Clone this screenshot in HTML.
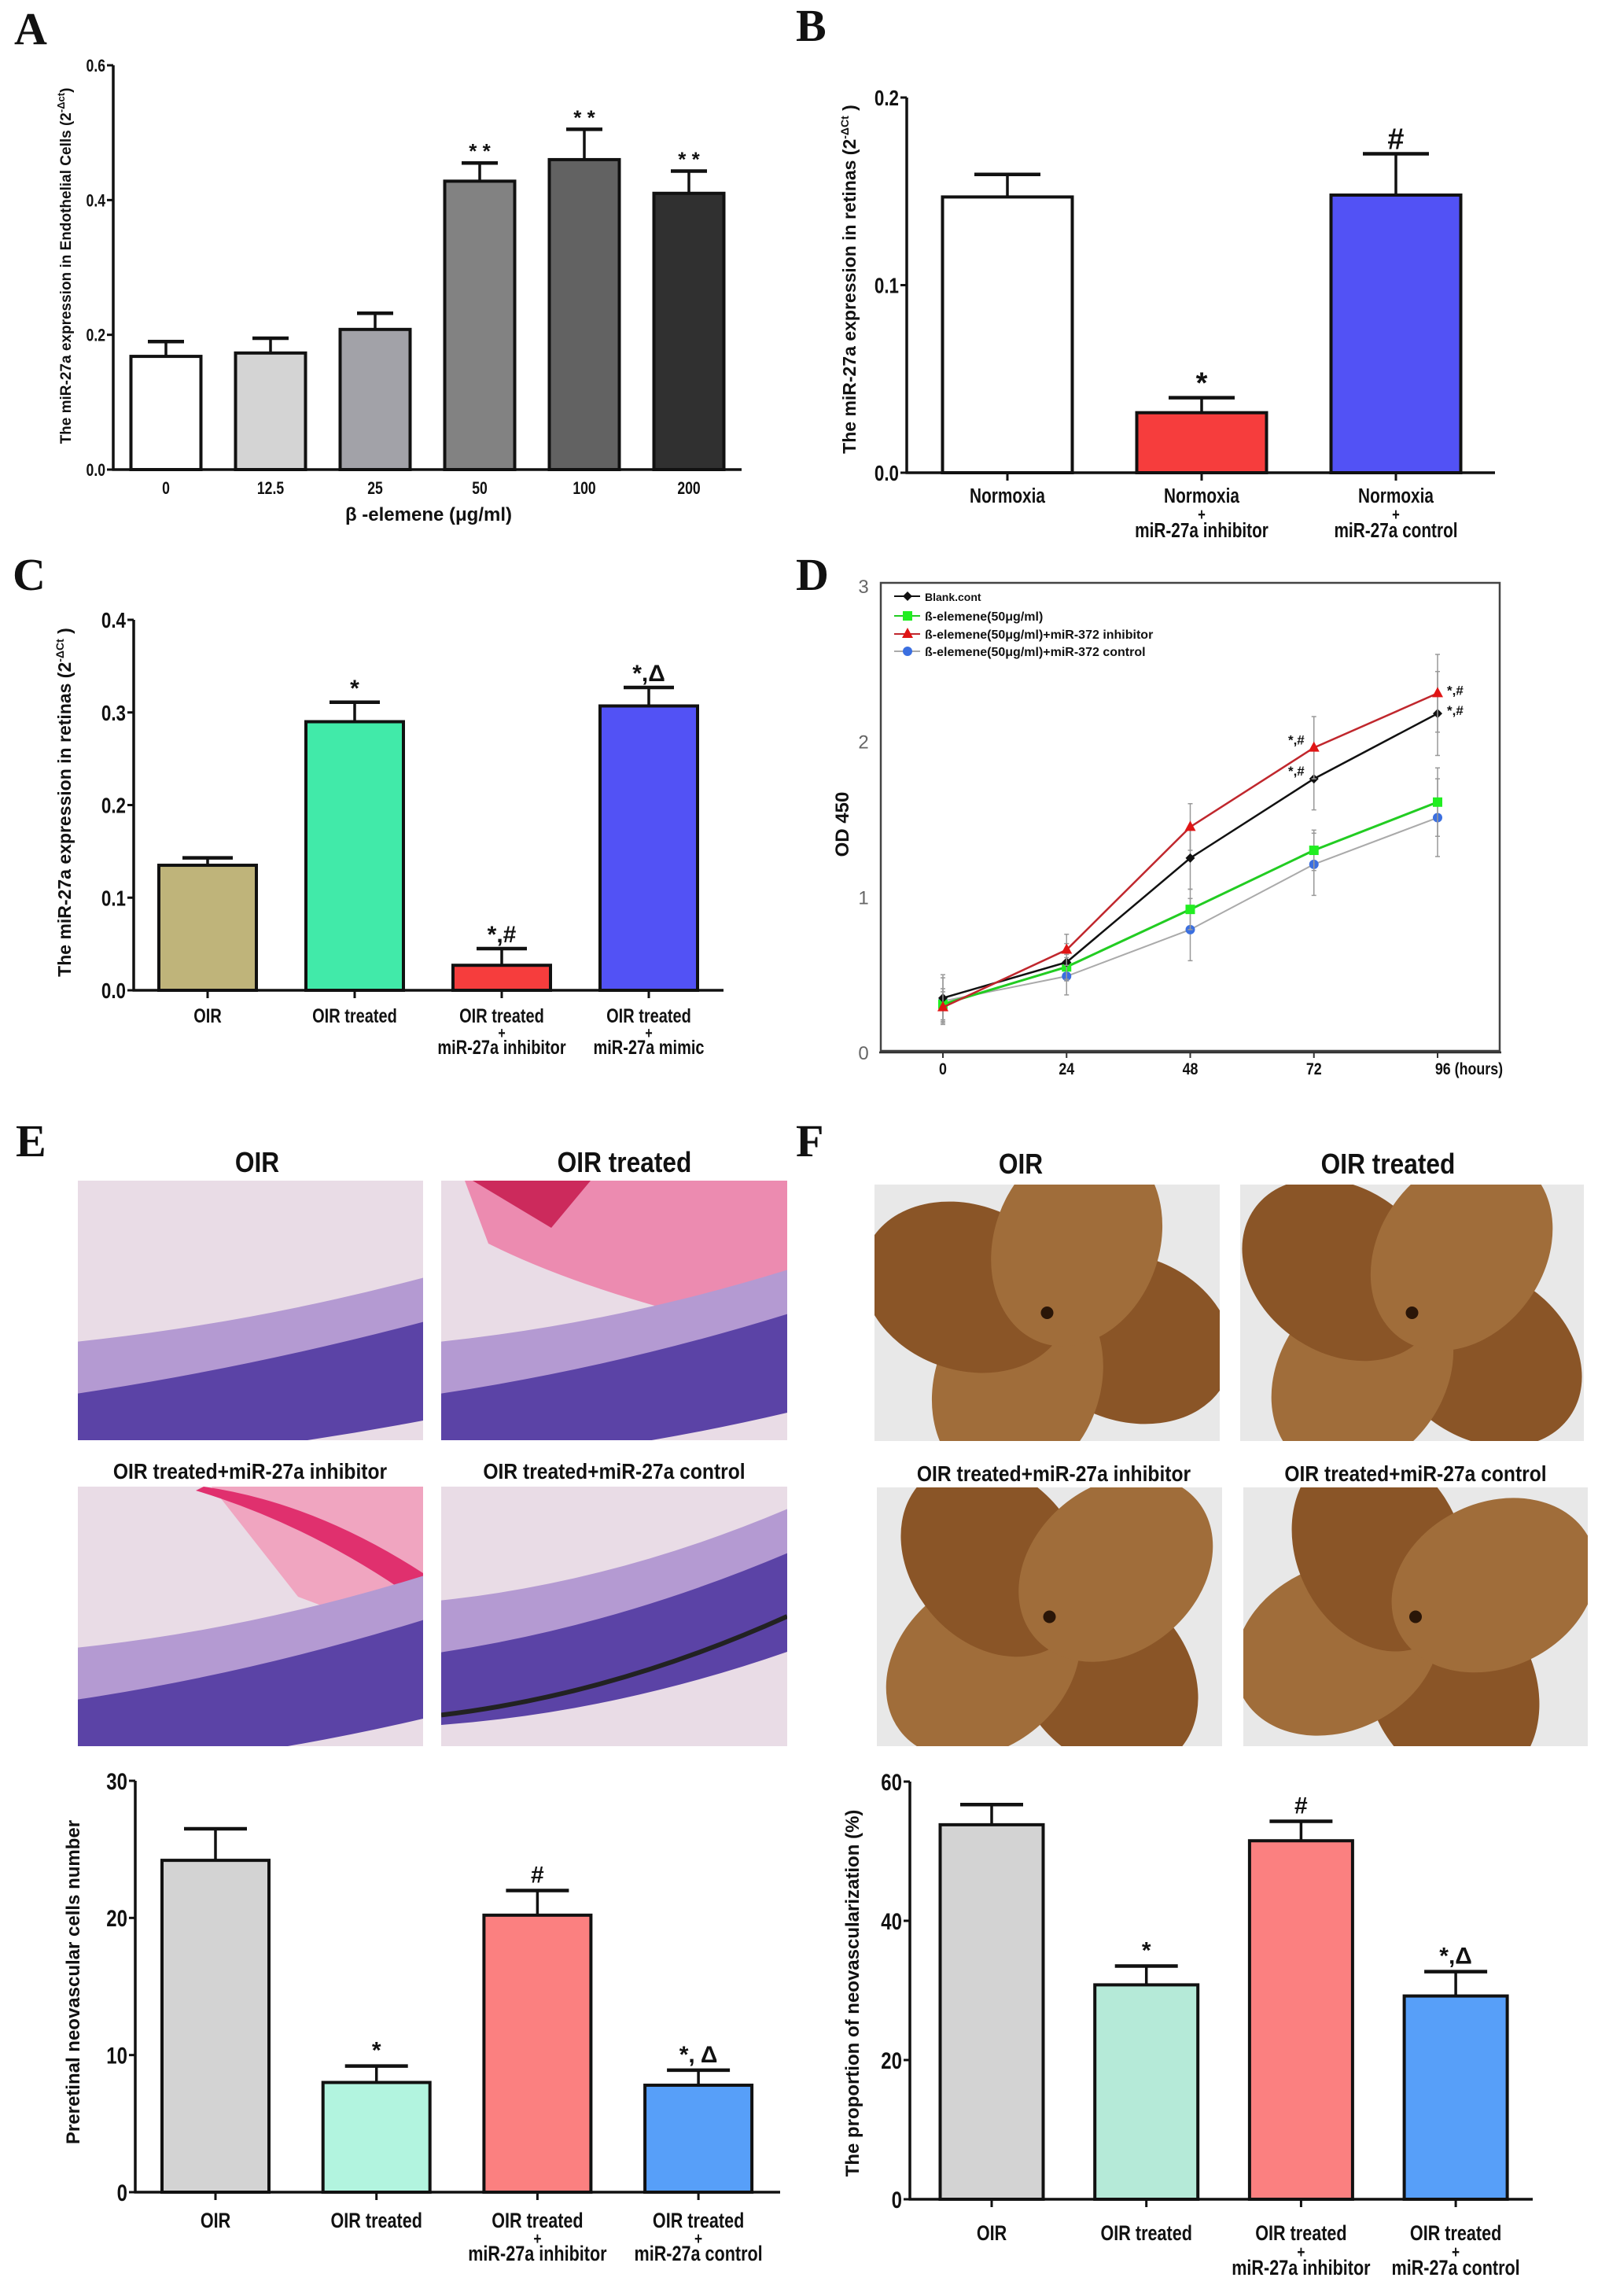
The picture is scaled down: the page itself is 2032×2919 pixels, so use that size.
<!DOCTYPE html>
<html><head><meta charset="utf-8"><style>
html,body{margin:0;padding:0;background:#fff;}
svg{display:block;}
text{font-family:"Liberation Sans",sans-serif;font-weight:bold;fill:#111;}
.serif{font-family:"Liberation Serif",serif;}
.thin{font-weight:normal;fill:#666;font-family:"Liberation Sans",sans-serif;}
</style></head><body>
<svg id="fig" xmlns="http://www.w3.org/2000/svg" width="2032" height="2919" viewBox="0 0 2032 2919">
<defs>
<clipPath id="ce1"><rect x="99" y="1501" width="439" height="330"/></clipPath>
<clipPath id="ce2"><rect x="561" y="1501" width="440" height="330"/></clipPath>
<clipPath id="ce3"><rect x="99" y="1890" width="439" height="330"/></clipPath>
<clipPath id="ce4"><rect x="561" y="1890" width="440" height="330"/></clipPath>
<clipPath id="cf1"><rect x="1112" y="1506" width="439" height="326"/></clipPath>
<clipPath id="cf2"><rect x="1577" y="1506" width="437" height="326"/></clipPath>
<clipPath id="cf3"><rect x="1115" y="1891" width="439" height="329"/></clipPath>
<clipPath id="cf4"><rect x="1581" y="1891" width="438" height="329"/></clipPath>
</defs>
<text class="serif" x="18" y="56" font-size="58">A</text>
<text class="serif" x="1012" y="52" font-size="58">B</text>
<text class="serif" x="16" y="750" font-size="58">C</text>
<text class="serif" x="1012" y="750" font-size="58">D</text>
<text class="serif" x="20" y="1470" font-size="58">E</text>
<text class="serif" x="1012" y="1470" font-size="58">F</text>
<g id="imgs"></g>
<g id="charts"></g>
</svg>
<script>
// ---- Panel A data ----
const aCategories=['0','12.5','25','50','100','200'];
const aValues=[0.168,0.173,0.208,0.428,0.460,0.410];
const aErrTops=[0.190,0.195,0.232,0.455,0.505,0.443];
const aTicks=[0.0,0.2,0.4,0.6];
const aMarks=['','','','* *','* *','* *'];
// ---- Panel B data ----
const bCategories=['Normoxia','Normoxia\n+\nmiR-27a inhibitor','Normoxia\n+\nmiR-27a control'];
const bValues=[0.147,0.032,0.148];
const bErrTops=[0.159,0.040,0.170];
const bTicks=[0.0,0.1,0.2];
const bMarks=['','*','#'];
// ---- Panel C data ----
const cCategories=['OIR','OIR treated','OIR treated\n+\nmiR-27a inhibitor','OIR treated\n+\nmiR-27a mimic'];
const cValues=[0.135,0.290,0.027,0.307];
const cErrTops=[0.143,0.311,0.045,0.327];
const cTicks=[0.0,0.1,0.2,0.3,0.4];
const cMarks=['','*','*,#','*,Δ'];
// ---- Panel D data ----
const dHours=[0,24,48,72,96];
const dTicksY=[0,1,2,3];
const dBlank=[0.35,0.58,1.25,1.76,2.18];
const dBlankErr=[0.15,0.12,0.20,0.20,0.27];
const dElem=[0.31,0.55,0.92,1.30,1.61];
const dElemErr=[0.10,0.08,0.13,0.13,0.22];
const dInhib=[0.29,0.66,1.45,1.96,2.31];
const dInhibErr=[0.10,0.10,0.15,0.20,0.25];
const dCtrl=[0.33,0.49,0.79,1.21,1.51];
const dCtrlErr=[0.15,0.12,0.20,0.20,0.25];
// ---- Panel E data ----
const eCategories=['OIR','OIR treated','OIR treated\n+\nmiR-27a inhibitor','OIR treated\n+\nmiR-27a control'];
const eValues=[24.2,8.0,20.2,7.8];
const eErrTops=[26.5,9.2,22.0,8.9];
const eTicks=[0,10,20,30];
const eMarks=['','*','#','*, Δ'];
// ---- Panel F data ----
const fCategories=['OIR','OIR treated','OIR treated\n+\nmiR-27a inhibitor','OIR treated\n+\nmiR-27a control'];
const fValues=[53.8,30.8,51.5,29.2];
const fErrTops=[56.7,33.5,54.3,32.7];
const fTicks=[0,20,40,60];
const fMarks=['','*','#','*,Δ'];

const NS='http://www.w3.org/2000/svg';
function mk(parent,tag,attrs){const e=document.createElementNS(NS,tag);for(const k in attrs)e.setAttribute(k,attrs[k]);parent.appendChild(e);return e;}
function ctext(parent,x,y,size,anchor,sx){return mk(parent,'text',{x:0,y:0,'font-size':size,'text-anchor':anchor,transform:`translate(${x},${y}) scale(${sx},1)`});}

function barChart(id,cats,vals,errs,ticks,marks,fills,G){
  const g=mk(document.getElementById('charts'),'g',{});
  
  
  const vmax=ticks[ticks.length-1];
  const y=v=>G.y0-(v/vmax)*(G.y0-G.yTop);
  const x=i=>G.c0+i*G.step;
  const ax=mk(g,'line',{x1:G.ax,y1:G.yTop,x2:G.ax,y2:G.y0+1.5,stroke:'#111','stroke-width':3.5});
  
  
  const bx=mk(g,'line',{x1:G.ax-1.5,y1:G.y0,x2:G.xEnd,y2:G.y0,stroke:'#111','stroke-width':3.5});
  
  
  ticks.forEach(t=>{
    mk(g,'line',{x1:G.ax-8,y1:y(t),x2:G.ax,y2:y(t),stroke:'#111','stroke-width':3});
    const tl=ctext(g,G.ax-10,y(t)+G.tf*0.36,G.tf,'end',0.8);
    tl.textContent=G.fmt(t);
    
    
  });
  cats.forEach((c,i)=>{
    const top=y(vals[i]);
    const et=y(errs[i]);
    mk(g,'line',{x1:x(i),y1:top,x2:x(i),y2:et,stroke:'#111','stroke-width':3.5});
    mk(g,'line',{x1:x(i)-G.cap/2,y1:et,x2:x(i)+G.cap/2,y2:et,stroke:'#111','stroke-width':4.5});
    const r=mk(g,'rect',{x:x(i)-G.bw/2,y:top,width:G.bw,height:G.y0-top,fill:fills[i],stroke:'#111','stroke-width':4});
    
    
    if(G.catTick) mk(g,'line',{x1:x(i),y1:G.y0,x2:x(i),y2:G.y0+10,stroke:'#111','stroke-width':3});
    const lines=c.split('\n');
    lines.forEach((ln,k)=>{
      const t=ctext(g,x(i),G.lb+k*G.lh,ln==='+'?G.lf*0.8:G.lf,'middle',0.8);
      t.textContent=ln;
      
      
    });
    if(marks[i]){
      const m=mk(g,'text',{x:x(i),y:et-G.mgap,'font-size':G.mf,'text-anchor':'middle'});
      m.textContent=marks[i];
      
      
    }
  });
  const yt=mk(g,'text',{x:0,y:0,'font-size':G.yf,'text-anchor':'middle',transform:`translate(${G.ytx},${G.yty}) rotate(-90)`});
  yt.innerHTML=G.ytitle;
  
  
  return g;
}

barChart('a',aCategories,aValues,aErrTops,aTicks,aMarks,['#ffffff','#d4d4d4','#a2a2a8','#828282','#626262','#303030'],
 {ax:144,y0:597,yTop:83,xEnd:943,c0:211,step:133,bw:89,cap:46,tf:22,fmt:v=>v.toFixed(1),lb:628,lh:22,lf:22,mf:26,mgap:6,catTick:false,
  yf:19,ytx:90,yty:338,ytitle:'The miR-27a expression in Endothelial Cells (2<tspan dy="-8" font-size="13">-Δct</tspan><tspan dy="8">)</tspan>'});
const ax=mk(document.getElementById('charts'),'text',{x:545,y:662,'font-size':24,'text-anchor':'middle'});
ax.textContent='β -elemene (μg/ml)';



barChart('b',bCategories,bValues,bErrTops,bTicks,bMarks,['#ffffff','#f63d3d','#5252f5'],
 {ax:1153,y0:601,yTop:124,xEnd:1901,c0:1281,step:247,bw:165,cap:84,tf:28,fmt:v=>v.toFixed(1),lb:639,lh:22,lf:26,mf:38,mgap:6,catTick:true,
  yf:23,ytx:1088,yty:355,ytitle:'The miR-27a expression in retinas (2<tspan dy="-9" font-size="14">-ΔCt</tspan><tspan dy="9"> )</tspan>'});

barChart('c',cCategories,cValues,cErrTops,cTicks,cMarks,['#bfb47a','#41eaa9','#f63d3d','#5252f5'],
 {ax:170,y0:1259,yTop:788,xEnd:920,c0:264,step:187,bw:124,cap:64,tf:28,fmt:v=>v.toFixed(1),lb:1300,lh:20,lf:25,mf:30,mgap:8,catTick:true,
  yf:23,ytx:90,yty:1020,ytitle:'The miR-27a expression in retinas (2<tspan dy="-9" font-size="14">-ΔCt</tspan><tspan dy="9"> )</tspan>'});

barChart('e',eCategories,eValues,eErrTops,eTicks,eMarks,['#d3d3d3','#b2f4df','#fb8080','#579ff9'],
 {ax:172,y0:2787,yTop:2264,xEnd:992,c0:274,step:204.7,bw:136,cap:80,tf:30,fmt:v=>String(v),lb:2832,lh:21,lf:27,mf:30,mgap:10,catTick:true,
  yf:24,ytx:101,yty:2520,ytitle:'Preretinal neovascular cells number'});

barChart('f',fCategories,fValues,fErrTops,fTicks,fMarks,['#d3d3d3','#b5ead8','#fb8080','#579ff9'],
 {ax:1157,y0:2796,yTop:2265,xEnd:1949,c0:1261,step:196.7,bw:131,cap:80,tf:30,fmt:v=>String(v),lb:2848,lh:22,lf:27,mf:30,mgap:10,catTick:true,
  yf:24,ytx:1092,yty:2534,ytitle:'The proportion of neovascularization (%)'});

// ---- Panel D line chart ----
(function(){
  const g=mk(document.getElementById('charts'),'g',{});
  
  
  const L=1120,R=1907,T=741,B=1336,Y0=1338,Y3=745;
  const y=v=>Y0-v/3*(Y0-Y3);
  const x=h=>1199+h/96*(1828-1199);
  const box=mk(g,'rect',{x:L,y:T,width:R-L,height:B-T,fill:'none',stroke:'#444','stroke-width':2.5});
  
  
  mk(g,'line',{x1:1118,y1:Y0,x2:1909,y2:Y0,stroke:'#333','stroke-width':2.5});
  dTicksY.forEach(t=>{
    const tl=mk(g,'text',{x:1098,y:y(t)+9,'font-size':24,'text-anchor':'middle',class:'thin'});
    tl.textContent=t;
    
    
  });
  dHours.forEach(h=>{
    mk(g,'line',{x1:x(h),y1:Y0,x2:x(h),y2:Y0+7,stroke:'#333','stroke-width':2});
    const tl=ctext(g,h===96?x(h)+40:x(h),1366,21,'middle',0.85);
    tl.textContent=h===96?'96 (hours)':String(h);
    
    
  });
  const yt=mk(g,'text',{x:0,y:0,'font-size':24,'text-anchor':'middle',transform:'translate(1079,1048) rotate(-90)'});
  yt.textContent='OD 450';
  
  
  function series(name,vals,errs,line,lw,mcol,shape){
    const sg=mk(g,'g',{});
    
    
    vals.forEach((v,i)=>{
      mk(sg,'line',{x1:x(dHours[i]),y1:y(v-errs[i]),x2:x(dHours[i]),y2:y(v+errs[i]),stroke:'#999','stroke-width':1.5});
      mk(sg,'line',{x1:x(dHours[i])-3,y1:y(v+errs[i]),x2:x(dHours[i])+3,y2:y(v+errs[i]),stroke:'#999','stroke-width':1.5});
      mk(sg,'line',{x1:x(dHours[i])-3,y1:y(v-errs[i]),x2:x(dHours[i])+3,y2:y(v-errs[i]),stroke:'#999','stroke-width':1.5});
    });
    const pl=mk(sg,'polyline',{points:vals.map((v,i)=>x(dHours[i])+','+y(v)).join(' '),fill:'none',stroke:line,'stroke-width':lw});
    
    
    vals.forEach((v,i)=>marker(sg,x(dHours[i]),y(v),shape,mcol,name));
  }
  function marker(p,cx,cy,shape,col,name){
    let m;
    if(shape==='d') m=mk(p,'polygon',{points:`${cx},${cy-6} ${cx+6},${cy} ${cx},${cy+6} ${cx-6},${cy}`,fill:col});
    else if(shape==='s') m=mk(p,'rect',{x:cx-6,y:cy-6,width:12,height:12,fill:col});
    else if(shape==='t') m=mk(p,'polygon',{points:`${cx},${cy-8} ${cx+7},${cy+5} ${cx-7},${cy+5}`,fill:col});
    else m=mk(p,'circle',{cx:cx,cy:cy,r:6,fill:col});
    
    
  }
  series('control',dCtrl,dCtrlErr,'#aaaaaa',2,'#3b6fe0','c');
  series('elemene',dElem,dElemErr,'#22cc22',3,'#22ee22','s');
  series('blank',dBlank,dBlankErr,'#111111',2.5,'#111111','d');
  series('inhibitor',dInhib,dInhibErr,'#c0272d',2.5,'#e01515','t');
  [[72,dInhib[3],-1],[72,dBlank[3],-1],[96,dInhib[4],1],[96,dBlank[4],1]].forEach(a=>{
    const t=mk(g,'text',{x:x(a[0])+(a[2]<0?-12:12),y:y(a[1])+(a[2]<0?-4:2),'font-size':17,'text-anchor':a[2]<0?'end':'start'});
    t.textContent='*,#';
    
    
  });
  const legend=[['Blank.cont','#111','#111','d',14],['ß-elemene(50μg/ml)','#22cc22','#22ee22','s',16],['ß-elemene(50μg/ml)+miR-372 inhibitor','#c0272d','#e01515','t',16],['ß-elemene(50μg/ml)+miR-372 control','#aaa','#3b6fe0','c',16]];
  const ly=[758,783,806,828];
  legend.forEach((l,i)=>{
    const lg=mk(g,'g',{});
    
    
    mk(lg,'line',{x1:1137,y1:ly[i],x2:1170,y2:ly[i],stroke:l[1],'stroke-width':2});
    marker(lg,1154,ly[i],l[3],l[2],'legend');
    const t=mk(lg,'text',{x:1176,y:ly[i]+6,'font-size':l[4]});
    t.textContent=l[0];
  });
})();

// ---- micrograph approximations ----
(function(){
  const g=document.getElementById('imgs');
  function title(x,y,s,txt){const t=ctext(g,x,y,s,'middle',0.88);t.textContent=txt;
    
    }
  title(327,1490,36,'OIR');title(794,1490,36,'OIR treated');
  title(318,1880,28,'OIR treated+miR-27a inhibitor');title(781,1880,28,'OIR treated+miR-27a control');
  title(1298,1492,36,'OIR');title(1765,1492,36,'OIR treated');
  title(1340,1883,28,'OIR treated+miR-27a inhibitor');title(1800,1883,28,'OIR treated+miR-27a control');
  const E=[[99,1501,439,330,'ce1',0],[561,1501,440,330,'ce2',1],[99,1890,439,330,'ce3',2],[561,1890,440,330,'ce4',3]];
  E.forEach(e=>{
    const [x,y,w,h,c,k]=e;
    const s=mk(g,'g',{'clip-path':`url(#${c})`});
    
    
    mk(s,'rect',{x:x,y:y,width:w,height:h,fill:'#e9dce6'});
    if(k===1){mk(s,'path',{d:`M${x+30} ${y} L${x+w} ${y} L${x+w} ${y+200} Q${x+200} ${y+150} ${x+60} ${y+80} Z`,fill:'#ec8bb0'});
      mk(s,'path',{d:`M${x+40} ${y} L${x+190} ${y} L${x+140} ${y+60} Z`,fill:'#cc2a5c'});}
    if(k===2){mk(s,'path',{d:`M${x+170} ${y} L${x+w} ${y} L${x+w} ${y+200} L${x+280} ${y+140} Z`,fill:'#f0a5c0'});
      mk(s,'path',{d:`M${x+150} ${y+5} Q${x+300} ${y+50} ${x+w} ${y+150} L${x+w} ${y+110} Q${x+300} ${y+20} ${x+160} ${y} Z`,fill:'#e0306e'});}
    const off=k===3?-60:0, tilt=k===3?-120:(k===0?-50:-70);
    mk(s,'path',{d:`M${x} ${y+h*0.62+off} Q${x+w/2} ${y+h*0.55+off} ${x+w} ${y+h*0.45+off+tilt/2} L${x+w} ${y+h*0.75+off+tilt/2} Q${x+w/2} ${y+h*0.85+off} ${x} ${y+h*0.9+off} Z`,fill:'#b49ad2'});
    mk(s,'path',{d:`M${x} ${y+h*0.82+off} Q${x+w/2} ${y+h*0.72+off} ${x+w} ${y+h*0.62+off+tilt/2} L${x+w} ${y+h*1.0+off+tilt/2} Q${x+w/2} ${y+h*1.05+off} ${x} ${y+h*1.1+off} Z`,fill:'#5b43a6'});
    if(k===3) mk(s,'path',{d:`M${x} ${y+h*0.88} Q${x+w/2} ${y+h*0.8} ${x+w} ${y+h*0.5}`,fill:'none',stroke:'#222','stroke-width':6});
  });
  const F=[[1112,1506,439,326,'cf1'],[1577,1506,437,326,'cf2'],[1115,1891,439,329,'cf3'],[1581,1891,438,329,'cf4']];
  F.forEach((f,k)=>{
    const [x,y,w,h,c]=f;
    const s=mk(g,'g',{'clip-path':`url(#${c})`});
    
    
    mk(s,'rect',{x:x,y:y,width:w,height:h,fill:'#e8e8e8'});
    const cx=x+w*0.5, cy=y+h*0.5;
    [20,110,200,290].forEach((a,i)=>{
      const ang=a+k*15;
      mk(s,'ellipse',{cx:cx+Math.cos(ang*Math.PI/180)*110,cy:cy+Math.sin(ang*Math.PI/180)*95,rx:135,ry:105,fill:i%2?'#a06d3a':'#8a5527',transform:`rotate(${ang} ${cx+Math.cos(ang*Math.PI/180)*110} ${cy+Math.sin(ang*Math.PI/180)*95})`});
    });
    mk(s,'circle',{cx:cx,cy:cy,r:8,fill:'#2a1608'});
  });
})();
</script>
</body></html>
